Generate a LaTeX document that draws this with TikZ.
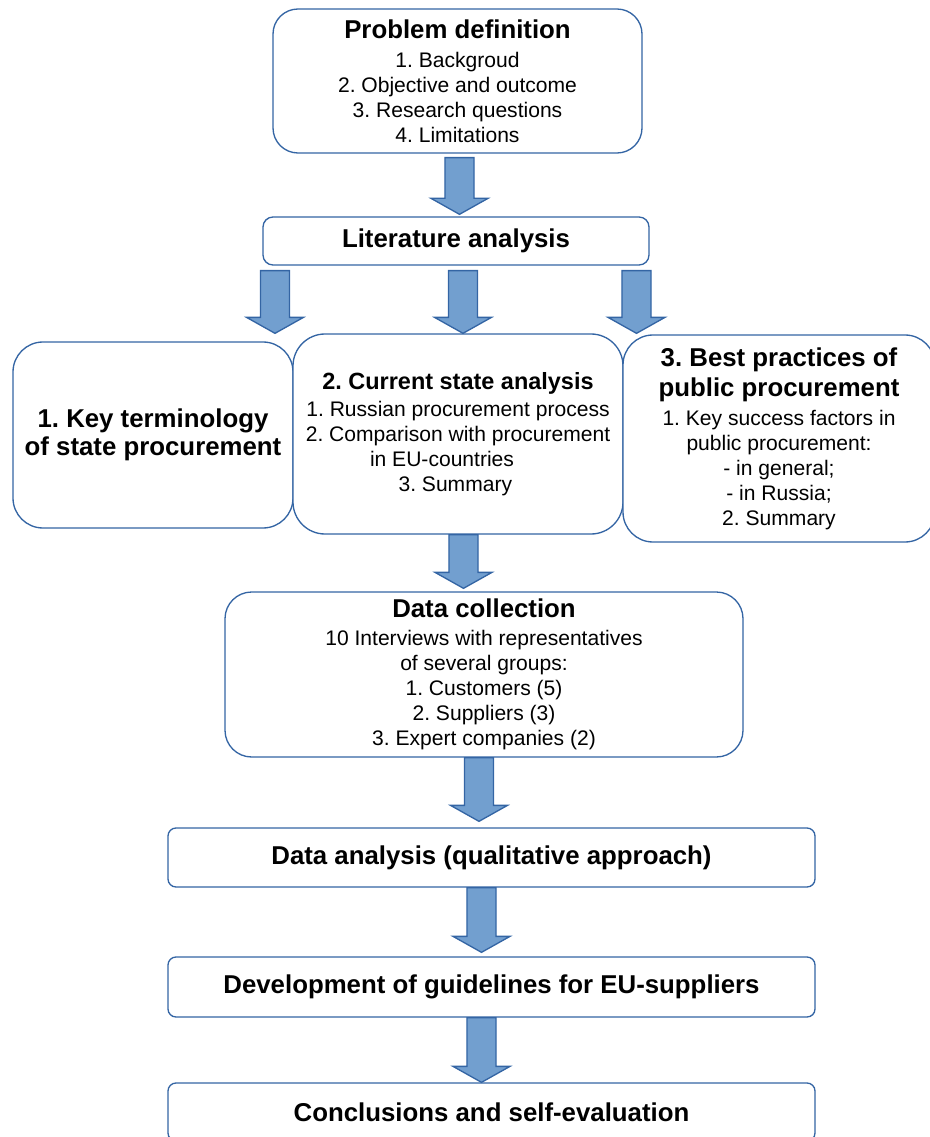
\documentclass[tikz,border=0pt]{standalone}
\usepackage{fontspec}
\setmainfont{Liberation Sans}
\frenchspacing
\usetikzlibrary{calc}
\definecolor{boxline}{HTML}{3465A4}
\definecolor{arrowfill}{HTML}{729FCF}
\newcommand{\ttl}{\fontsize{19.35}{22.5}\selectfont\bfseries}
\tikzset{
  box/.style={draw=boxline,fill=white,line width=1pt,inner sep=0pt,align=center,
    font=\fontsize{15.8}{18.75}\selectfont},
  flatbox/.style={box,rounded corners=6pt,font=\ttl,minimum width=485.25pt,minimum height=44.25pt},
  blockarrow/.style={draw=boxline,fill=arrowfill,line width=1pt,
    to path={let \p1=(\tikztostart),\p2=(\tikztotarget) in
      (\x1-10.9pt,\y1) -- (\x1+10.9pt,\y1) -- (\x1+10.9pt,\y2+12pt) -- (\x1+21.4pt,\y2+12pt)
      -- (\x1,\y2) -- (\x1-21.4pt,\y2+12pt) -- (\x1-10.9pt,\y2+12pt) -- cycle}}
}
\begin{document}
\begin{tikzpicture}[x=0.75pt,y=-0.75pt]
\path[use as bounding box] (0,0) rectangle (929,1137);
\node[box,rounded corners=18.75pt,minimum width=276.75pt,minimum height=108pt] (problem) at (457.5,81)
  {{\ttl Problem definition}\\[3pt]1. Backgroud\\2. Objective and outcome\\3. Research questions\\4. Limitations};
\node[box,rounded corners=7.5pt,font=\ttl,minimum width=289.5pt,minimum height=36pt] (lit) at (456,241) {Literature analysis};
\node[box,rounded corners=22.5pt,font=\ttl,minimum width=210pt,minimum height=139.5pt] (terms) at (153,435)
  {1. Key terminology\\[-1.5pt]of state procurement};
\node[box,rounded corners=24pt,minimum width=247.5pt,minimum height=150pt] (curstate) at (458,434)
  {{\fontsize{17.6}{21}\selectfont\bfseries 2. Current state analysis}\\[1.5pt]1. Russian procurement process\\2. Comparison with procurement\\in EU-countries\kern24pt\\3. Summary\kern4pt};
\node[box,rounded corners=22.5pt,minimum width=234pt,minimum height=155.25pt] (best) at (779,438.5)
  {{\ttl 3. Best practices of}\\[3.75pt]{\ttl public procurement}\\[3pt]1. Key success factors in\\public procurement:\\- in general;\\- in Russia;\\2. Summary};
\node[box,rounded corners=20pt,minimum width=388.5pt,minimum height=123.75pt] (datacoll) at (484,674.5)
  {{\ttl Data collection}\\[2pt]10 Interviews with representatives\\of several groups:\\1. Customers (5)\\2. Suppliers (3)\\3. Expert companies (2)};
\node[flatbox] (analysis) at (491.5,857.5) {Data analysis (qualitative approach)};
\node[flatbox,minimum height=45pt] (guide) at (491.5,987) {Development of guidelines for EU-suppliers};
\node[flatbox,minimum height=43.5pt] (concl) at (491.5,1112) {Conclusions and self-evaluation};
% block arrows
\path[blockarrow] ([shift={(2,4)}]problem.south) to ([shift={(0,-2)}]lit.north);
\path[blockarrow] ([shift={(-181,5)}]lit.south) to (curstate.north);
\path[blockarrow] ([shift={(7,5)}]lit.south) to (curstate.north);
\path[blockarrow] ([shift={(180.5,5)}]lit.south) to (curstate.north);
\path[blockarrow] ([shift={(5.5,0)}]curstate.south) to ([shift={(0,-3)}]datacoll.north);
\path[blockarrow] ([shift={(-5,0)}]datacoll.south) to ([shift={(0,-6)}]analysis.north);
\path[blockarrow] ([shift={(-10,0)}]analysis.south) to ([shift={(0,-4)}]guide.north);
\path[blockarrow] ([shift={(-10,0)}]guide.south) to (concl.north);
\end{tikzpicture}
\end{document}
